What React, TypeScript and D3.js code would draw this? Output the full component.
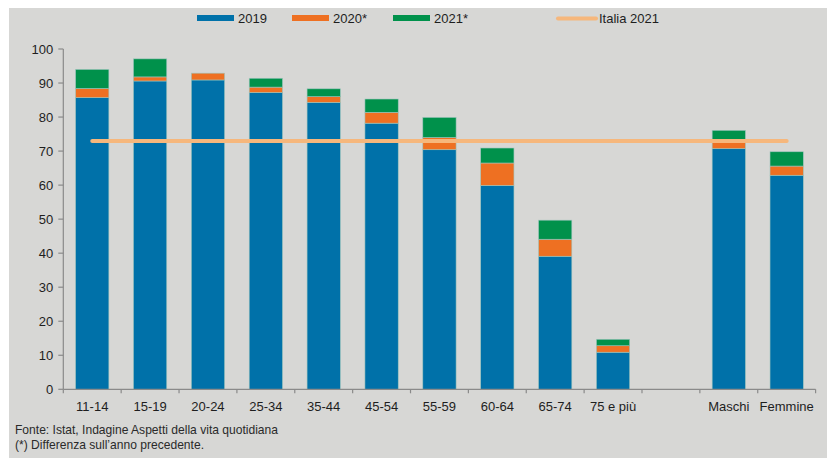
import React, { useEffect, useRef } from "react";
import * as d3 from "d3";

const categories = ["11-14", "15-19", "20-24", "25-34", "35-44", "45-54", "55-59", "60-64", "65-74", "75 e più", "", "Maschi", "Femmine"];
const values2019 = [85.7, 90.6, 90.9, 87.2, 84.3, 78.2, 70.4, 59.9, 39.1, 10.9, 0, 70.7, 62.9];
const diff2020 = [2.7, 1.2, 2.0, 1.6, 1.7, 3.2, 3.6, 6.6, 5.0, 1.9, 0, 2.0, 2.7];
const diff2021 = [5.6, 5.3, 0, 2.6, 2.3, 3.9, 5.9, 4.4, 5.6, 1.9, 0, 3.4, 4.2];
const italia2021 = 73.0;
const yTicks = [0, 10, 20, 30, 40, 50, 60, 70, 80, 90, 100];
const seriesKeys = ["2019", "2020*", "2021*"];
const seriesColors = ["#0071a9", "#ee7022", "#00914b"];
const footer = ["Fonte: Istat, Indagine Aspetti della vita quotidiana", "(*) Differenza sull\u2019anno precedente."];
const footerWidths = [263, 189];

const W = 827, H = 458;
const FONT = "'Liberation Sans', Arial, Helvetica, sans-serif";

function Chart() {
    const ref = useRef<SVGSVGElement>(null);

    useEffect(() => {
        const svg = d3.select(ref.current);
        svg.selectAll("*").remove();

        svg.append("rect").attr("x", 9).attr("y", 8).attr("width", W - 9).attr("height", H - 8).attr("fill", "#d7d7d5");

        const x = d3.scaleBand().domain(categories).range([63.3, 815.6]).paddingInner(0.425).paddingOuter(0.2125);
        const y = d3.scaleLinear().domain([0, 100]).range([389.3, 49]);

        const rows = categories.map((c, i) => ({ cat: c, "2019": values2019[i], "2020*": diff2020[i], "2021*": diff2021[i] }));
        const stacked = d3.stack<any>().keys(seriesKeys)(rows);

        // bars
        stacked.forEach((layer, li) => {
            svg.append("g")
                .selectAll("rect")
                .data(layer.filter(d => d[1] - d[0] > 0))
                .join("rect")
                .attr("x", d => x(d.data.cat)!)
                .attr("width", x.bandwidth())
                .attr("y", d => y(d[1]))
                .attr("height", d => y(d[0]) - y(d[1]))
                .attr("fill", seriesColors[li])
                .attr("stroke", "#9ec5bd")
                .attr("stroke-width", 0.6);
        });

        // Italia 2021 line
        const first = categories[0], last = categories[categories.length - 1];
        svg.append("line")
            .attr("x1", x(first)! + x.bandwidth() / 2)
            .attr("x2", x(last)! + x.bandwidth() / 2)
            .attr("y1", y(italia2021))
            .attr("y2", y(italia2021))
            .attr("stroke", "#f6b77c")
            .attr("stroke-width", 4)
            .attr("stroke-linecap", "round");

        // y axis
        const axisColor = "#8a8a8a";
        const [x0, x1] = x.range();
        svg.append("line").attr("x1", x0).attr("x2", x0).attr("y1", y(0)).attr("y2", y(100)).attr("stroke", axisColor).attr("stroke-width", 1.2);
        const yt = svg.append("g");
        yTicks.forEach(t => {
            yt.append("line").attr("x1", x0 - 5).attr("x2", x0).attr("y1", y(t)).attr("y2", y(t)).attr("stroke", axisColor).attr("stroke-width", 1.2);
            yt.append("text").attr("x", x0 - 10).attr("y", y(t)).attr("dy", "0.35em")
                .attr("text-anchor", "end").attr("font-family", FONT).attr("font-size", 13).attr("fill", "#1e1e1e").text(t);
        });

        // x axis
        svg.append("line").attr("x1", x0).attr("x2", x1).attr("y1", y(0)).attr("y2", y(0)).attr("stroke", axisColor).attr("stroke-width", 1.2);
        const step = x.step();
        d3.range(categories.length + 1).forEach(i => {
            const px = x0 + i * step;
            svg.append("line").attr("x1", px).attr("x2", px).attr("y1", y(0)).attr("y2", y(0) + 4).attr("stroke", axisColor).attr("stroke-width", 1.2);
        });
        categories.forEach(c => {
            svg.append("text").attr("x", x(c)! + x.bandwidth() / 2).attr("y", 411)
                .attr("text-anchor", "middle").attr("font-family", FONT).attr("font-size", 13).attr("fill", "#1e1e1e").text(c);
        });

        // legend
        const legend = [
            { label: "2019", x: 197, color: seriesColors[0], kind: "rect" },
            { label: "2020*", x: 292, color: seriesColors[1], kind: "rect" },
            { label: "2021*", x: 393, color: seriesColors[2], kind: "rect" },
            { label: "Italia 2021", x: 558, color: "#f6b77c", kind: "line" },
        ];
        legend.forEach(l => {
            if (l.kind === "rect") {
                svg.append("rect").attr("x", l.x).attr("y", 15).attr("width", 37).attr("height", 6).attr("fill", l.color);
            } else {
                svg.append("line").attr("x1", l.x).attr("x2", l.x + 38).attr("y1", 18.5).attr("y2", 18.5)
                    .attr("stroke", l.color).attr("stroke-width", 4).attr("stroke-linecap", "round");
            }
            svg.append("text").attr("x", l.x + 41).attr("y", 23).attr("font-family", FONT).attr("font-size", 13)
                .attr("fill", "#1e1e1e").text(l.label);
        });

        // footer (condensed like the original narrow face)
        footer.forEach((t, i) => {
            svg.append("text").attr("x", 15).attr("y", 434 + i * 14.5).attr("font-family", FONT).attr("font-size", 13)
                .attr("textLength", footerWidths[i]).attr("lengthAdjust", "spacingAndGlyphs")
                .attr("fill", "#2a2a2a").text(t);
        });
    }, []);

    return <svg ref={ref} width={W} height={H} style={{ display: "block" }}></svg>;
}

export default function App() {
    return (
        <div style={{ position: "fixed", left: 0, top: 0, width: W, height: H, background: "#fff" }}>
            <Chart />
        </div>
    );
}
